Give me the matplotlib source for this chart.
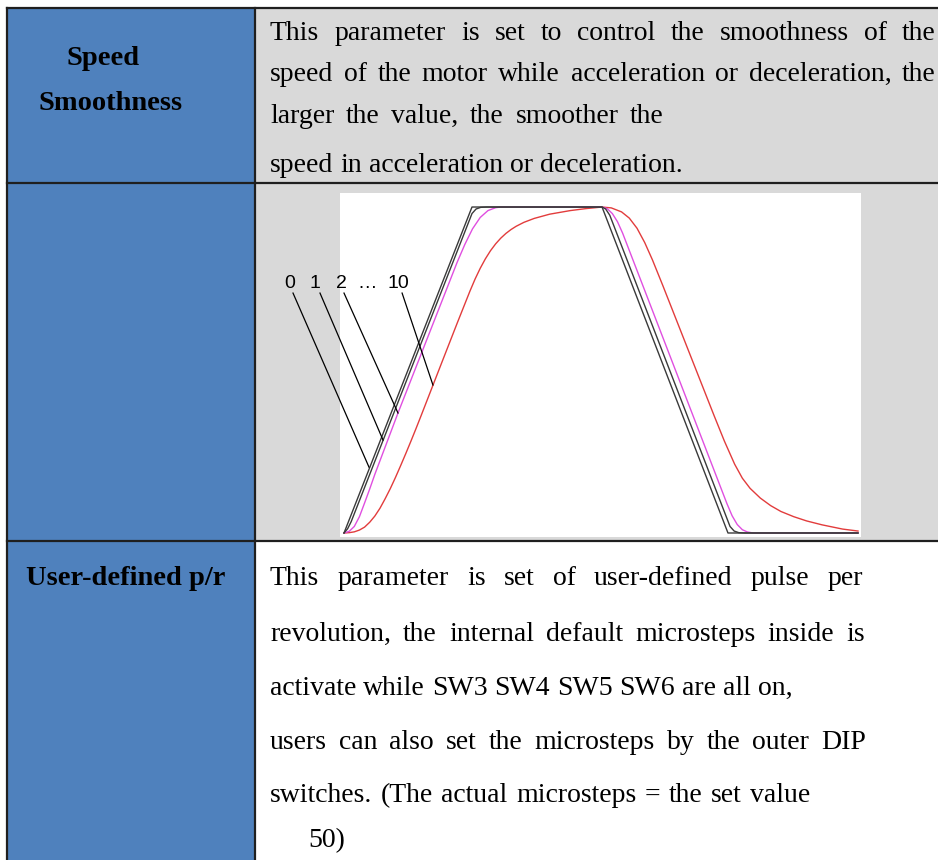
import matplotlib
matplotlib.use("Agg")
import matplotlib.pyplot as plt
from matplotlib.patches import Rectangle

# ---- chart data (time in %, speed in % of max) ----
t_s0 = [0, 24.9, 50.2, 74.7, 100]
v_s0 = [0, 100, 100, 0, 0]

t_s1 = [0, 0.7, 1.4, 24.9, 25.7, 26.6, 27.8, 50.2, 50.9, 51.7, 75.1, 75.9, 76.8, 78.0, 100]
v_s1 = [0, 1.3, 3.5, 98.0, 99.4, 99.9, 100, 100, 99.4, 97.5, 2.0, 0.6, 0.1, 0, 0]

t_s2 = [0, 1.0, 2.0, 3.0, 4.0, 5.0, 6.0, 10.5, 22.0, 23.5, 25.0, 26.5, 28.0, 29.5, 30.5,
        50.2, 51.2, 52.2, 53.2, 54.2, 74.5, 75.5, 76.5, 77.5, 78.5, 79.6, 100]
v_s2 = [0, 0.5, 2.0, 5.0, 9.2, 13.5, 18.0, 36.8, 83.0, 88.5, 93.3, 96.8, 98.9, 99.8, 100,
        100, 99.5, 98.0, 95.5, 92.0, 9.0, 5.3, 2.6, 1.0, 0.3, 0, 0]

t_s10 = [0, 1, 2, 3, 4, 5, 6, 7, 8, 9, 10, 11, 12, 13, 14, 15, 17, 19, 22, 24.5, 25.5,
         26.5, 27.5, 28.5, 29.5, 30.5, 31.5, 32.5, 33.5, 35, 37, 40, 44, 47, 50.2,
         52, 54, 55.5, 57, 58.5, 60, 62, 64, 66, 68, 70, 72, 74, 76, 77.5, 79, 81, 83,
         85, 87.5, 90, 93, 97, 100]
v_s10 = [0, 0.1, 0.35, 0.9, 1.8, 3.3, 5.2, 7.6, 10.5, 13.6, 17.0, 20.6, 24.3, 28.1, 32.0,
         36.0, 44.1, 52.2, 64.3, 74.2, 77.9, 81.2, 84.1, 86.6, 88.7, 90.45, 91.9, 93.1,
         94.1, 95.3, 96.5, 97.8, 98.9, 99.5, 100,
         99.73, 98.5, 96.6, 93.5, 89.1, 83.8, 76.0, 68.0, 60.0, 52.0, 44.0, 36.0, 28.2,
         21.1, 16.8, 13.7, 10.7, 8.4, 6.6, 5.0, 3.7, 2.5, 1.2, 0.6]

curve_labels = ["0", "1", "2", "\u2026", "10"]
label_t = [-10.5, -5.64, -0.58, 4.47, 10.5]
label_v = 75.2
leader_from = [(-9.92, 73.6), (-4.67, 73.6), (0.0, 73.6), (11.3, 73.6)]
leader_to = [(4.86, 20.2), (7.59, 28.5), (10.5, 36.8), (17.3, 45.4)]

# ---- table text ----
row1_lines = [
    "This parameter is set to control the smoothness of the",
    "speed of the motor while acceleration or deceleration, the",
    "larger the value, the smoother the",
    "speed in acceleration or deceleration.",
]
row1_right = [936, 936, 664, None]
row1_base = [40, 81, 123, 172]

row3_lines = [
    "This parameter is set of user-defined pulse per",
    "revolution, the internal default microsteps inside is",
    "activate while SW3 SW4 SW5 SW6 are all on,",
    "users can also set the microsteps by the outer DIP",
    "switches. (The actual microsteps = the set value",
    "50)",
]
row3_right = [863, 865, None, 866, 810, None]
row3_left = [270, 270, 270, 270, 270, 308]
row3_base = [585, 641, 695, 749, 802, 847]

BLUE = "#4F81BD"
GRAY = "#D9D9D9"
EDGE = "#1f1f1f"
SERIF = "Liberation Serif"
FS = 20

W, H = 938, 860
fig = plt.figure(figsize=(W / 100, H / 100), dpi=100)
ax = fig.add_axes([0, 0, 1, 1])
ax.set_xlim(0, W)
ax.set_ylim(H, 0)
ax.axis("off")

# cell backgrounds
ax.add_patch(Rectangle((7, 8), 248, H - 8, facecolor=BLUE, edgecolor="none"))
ax.add_patch(Rectangle((255, 8), W - 255, 533, facecolor=GRAY, edgecolor="none"))
ax.add_patch(Rectangle((255, 541), W - 255, H - 541, facecolor="white", edgecolor="none"))

# borders
lw = 1.6
ax.plot([7, W], [8, 8], color=EDGE, lw=lw)
ax.plot([7, W], [183, 183], color=EDGE, lw=lw)
ax.plot([7, W], [541, 541], color=EDGE, lw=lw)
ax.plot([7, 7], [8, H], color=EDGE, lw=lw)
ax.plot([255, 255], [8, H], color=EDGE, lw=lw)

renderer = fig.canvas.get_renderer()


def put_line(text, x0, y, x1=None, **kw):
    words = text.split(" ")
    objs = [ax.text(0, y, w, va="baseline", ha="left", **kw) for w in words]
    widths = [o.get_window_extent(renderer).width for o in objs]
    if x1 is None or len(words) < 2:
        gap = 0.25 * kw.get("fontsize", FS) * 100 / 72
    else:
        gap = (x1 - x0 - sum(widths)) / (len(words) - 1)
    x = x0
    for o, w in zip(objs, widths):
        o.set_x(x)
        x += w + gap


for line, right, base in zip(row1_lines, row1_right, row1_base):
    put_line(line, 270, base, right, family=SERIF, fontsize=FS, color="black")

for line, left, right, base in zip(row3_lines, row3_left, row3_right, row3_base):
    put_line(line, left, base, right, family=SERIF, fontsize=FS, color="black")

bold = dict(family=SERIF, fontsize=20.5, fontweight="bold", color="black",
            ha="center", va="baseline")
ax.text(103.5, 65, "Speed", **bold)
ax.text(110.5, 110, "Smoothness", **bold)
ax.text(126, 585, "User-defined p/r", **bold)

# ---- embedded chart ----
left_px, right_px, top_px, bot_px = 340, 861, 193, 537
cax = fig.add_axes([left_px / W, 1 - bot_px / H, (right_px - left_px) / W, (bot_px - top_px) / H])
cax.set_facecolor("white")
for s in cax.spines.values():
    s.set_visible(False)
cax.set_xticks([])
cax.set_yticks([])
cax.set_xlim(-0.78, 100.58)
cax.set_ylim(-1.23, 104.3)

cax.plot(t_s10, v_s10, color="#e23c3c", lw=1.0)
cax.plot(t_s2, v_s2, color="#e04fe0", lw=1.0)
cax.plot(t_s1, v_s1, color="#3a3a3a", lw=1.0)
cax.plot(t_s0, v_s0, color="#3a3a3a", lw=1.0)

for (x0, y0), (x1, y1) in zip(leader_from, leader_to):
    cax.plot([x0, x1], [y0, y1], color="black", lw=0.9, clip_on=False)
for lab, lt in zip(curve_labels, label_t):
    cax.text(lt, label_v, lab, ha="center", va="baseline", family="Liberation Sans",
             fontsize=14, color="black", clip_on=False)

fig.savefig("out.png", dpi=100)
